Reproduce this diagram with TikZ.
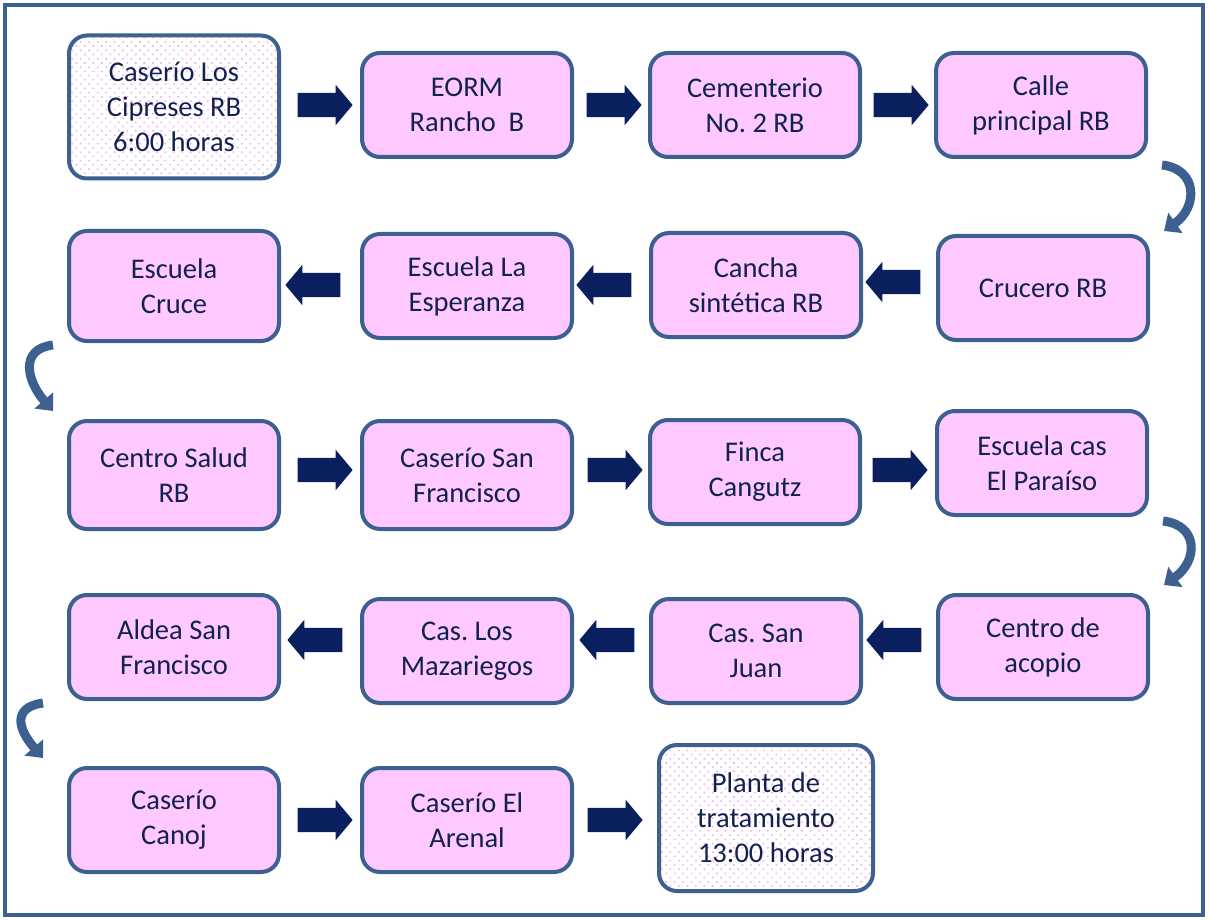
\documentclass[tikz,border=0pt]{standalone}
\usepackage{fontspec}
\setmainfont{Carlito}
\frenchspacing
\usetikzlibrary{shapes.arrows,arrows.meta,patterns.meta}
\definecolor{borde}{RGB}{60,96,144}
\definecolor{relleno}{RGB}{255,200,255}
\definecolor{texto}{RGB}{18,34,80}
\definecolor{azul}{RGB}{10,32,94}
\definecolor{punto}{RGB}{245,170,245}
\begin{document}
\begin{tikzpicture}[
    x=1pt, y=-1pt,
    parada/.style={rectangle, rounded corners=18pt, draw=borde, line width=4pt, fill=relleno,
        text=texto, align=center, minimum width=210pt, minimum height=104pt,
        font=\fontsize{28.5}{35}\selectfont},
    extremo/.style={parada, fill=none, preaction={fill=white},
        preaction={pattern={Dots[distance=6pt,radius=1.1pt,angle=45]}, pattern color=punto},
        minimum height=143pt},
    flecha/.style={single arrow, fill=azul, inner xsep=0pt, inner ysep=12pt, minimum width=0pt, minimum height=55pt,
        single arrow head extend=8pt, single arrow tip angle=100},
    izq/.style={flecha, shape border rotate=180},
    giro/.style={draw=borde, line width=9pt, -{Triangle[width=24pt,length=14pt]}}
]
\useasboundingbox (0,0) rectangle (1208,920);
% Marco exterior
\draw[borde, line width=4pt] (5,5) rectangle (1203,915);

% Primera fila
\node[extremo] at (174,107) (cipreses) {Caserío Los\\Cipreses RB\\6:00 horas};
\node[parada] at (467,105) (eorm) {EORM\\Rancho~ B};
\node[parada] at (755,105) (cementerio) {Cementerio\\No. 2 RB};
\node[parada] at (1041,105) (calle) {Calle\\principal RB};
\node[flecha] at (320,105) (f1) {};
\node[flecha] at (609,105) (f2) {};
\node[flecha] at (896,105) (f3) {};

% Segunda fila (de derecha a izquierda)
\node[parada] at (1043,288) (crucero) {Crucero RB};
\node[parada] at (756,285) (cancha) {Cancha\\sintética RB};
\node[parada] at (467,286) (esperanza) {Escuela La\\Esperanza};
\node[parada, minimum height=110pt] at (174,286) (cruce) {Escuela\\Cruce};
\node[izq] at (898,282) (f4) {};
\node[izq] at (609,285) (f5) {};
\node[izq] at (318,285) (f6) {};

% Tercera fila
\node[parada, minimum height=108pt] at (174,475) (salud) {Centro Salud\\RB};
\node[parada, minimum height=108pt] at (467,475) (sanfco) {Caserío San\\Francisco};
\node[parada] at (755,472) (finca) {Finca\\Cangutz};
\node[parada] at (1042,463) (paraiso) {Escuela cas\\El Paraíso};
\node[flecha] at (320,470) (f7) {};
\node[flecha] at (610,470) (f8) {};
\node[flecha] at (895,470) (f9) {};

% Cuarta fila (de derecha a izquierda)
\node[parada] at (1043,647) (acopio) {Centro de\\acopio};
\node[parada] at (756,651) (sanjuan) {Cas. San\\Juan};
\node[parada] at (467,651) (mazariegos) {Cas. Los\\Mazariegos};
\node[parada] at (174,647) (aldea) {Aldea San\\Francisco};
\node[izq] at (899,640) (f10) {};
\node[izq] at (612,640) (f11) {};
\node[izq] at (320,640) (f12) {};

% Quinta fila
\node[parada] at (174,820) (canoj) {Caserío\\Canoj};
\node[parada] at (467,820) (arenal) {Caserío El\\Arenal};
\node[extremo, minimum width=214pt, minimum height=146pt] at (766,818) (planta) {Planta de\\tratamiento\\13:00 horas};
\node[flecha] at (320,820) (f13) {};
\node[flecha] at (610,820) (f14) {};

% Cambios de fila
\draw[giro] ([xshift=14pt,yshift=-6pt]calle.south east) .. controls +(36,4) and +(34,-24) .. ([xshift=14pt,yshift=3pt]crucero.north east);
\draw[giro] ([xshift=-14pt,yshift=-2pt]cruce.south west) .. controls +(-34,4) and +(-26,-30) .. ([xshift=-14pt,yshift=8pt]salud.north west);
\draw[giro] ([xshift=14pt,yshift=-4pt]paraiso.south east) .. controls +(36,4) and +(34,-24) .. ([xshift=14pt,yshift=8pt]acopio.north east);
\draw[giro] ([xshift=-24pt,yshift=-2pt]aldea.south west) .. controls +(-30,4) and +(-26,-30) .. ([xshift=-24pt,yshift=8pt]canoj.north west);
\end{tikzpicture}
\end{document}
